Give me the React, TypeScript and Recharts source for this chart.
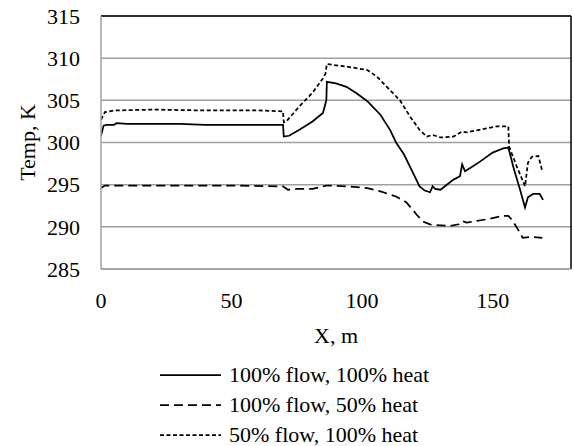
import { CartesianGrid, Line, LineChart, ReferenceLine, XAxis, YAxis } from "recharts";

// distance along the pipe, m / temperature, K
const fullFlowFullHeatX = [0, 1, 2, 5, 6, 10, 20, 30, 40, 50, 60, 69.7, 70, 72, 76, 81, 85, 86.3, 86.5, 90, 94, 98, 102, 107, 110.7, 113, 116, 119.5, 122, 124, 126, 127, 128, 130, 135, 137.5, 138.3, 139.4, 142, 145, 150, 154, 156, 158, 160.5, 162.4, 163.5, 165.5, 168, 169.3];
const fullFlowFullHeatT = [300.8, 302.0, 302.1, 302.1, 302.3, 302.2, 302.2, 302.2, 302.1, 302.1, 302.1, 302.1, 300.7, 300.8, 301.5, 302.5, 303.5, 305.0, 307.2, 307.0, 306.6, 305.8, 304.9, 303.3, 301.5, 300.0, 298.6, 296.4, 294.8, 294.3, 294.1, 294.8, 294.5, 294.4, 295.6, 296.0, 297.4, 296.6, 297.1, 297.7, 298.8, 299.3, 299.4, 297.0, 294.4, 292.3, 293.5, 293.9, 293.9, 293.2];

const fullFlowHalfHeatX = [0, 1.5, 10, 30, 50, 69.7, 71.6, 75, 81, 86.5, 94, 102, 107, 113, 117, 121, 123.5, 126, 128.5, 133.7, 137, 138.3, 140, 144, 147.8, 154, 156, 157.5, 159.3, 161.5, 165, 169];
const fullFlowHalfHeatT = [294.6, 294.9, 294.9, 294.9, 294.9, 294.8, 294.4, 294.5, 294.5, 294.9, 294.8, 294.6, 294.2, 293.6, 292.9, 291.4, 290.6, 290.3, 290.2, 290.1, 290.3, 290.7, 290.5, 290.7, 290.9, 291.3, 291.3, 290.8, 289.9, 288.7, 288.8, 288.7];

const halfFlowFullHeatX = [0, 1.5, 5, 20, 40, 60, 69.7, 70, 71, 76, 81, 85, 86, 86.5, 94, 102, 105.7, 110.7, 114.5, 118.3, 122, 124.8, 127, 130, 135, 138.3, 140, 145, 151.6, 156, 156.3, 159.3, 161.6, 162.4, 163.5, 165, 167.5, 169];
const halfFlowFullHeatT = [302.7, 303.6, 303.8, 303.9, 303.8, 303.8, 303.7, 302.4, 302.5, 304.3, 305.9, 307.6, 308.2, 309.3, 309.0, 308.6, 307.8, 306.2, 305.0, 303.1, 301.5, 300.7, 300.9, 300.6, 300.7, 301.3, 301.2, 301.5, 301.9, 301.9, 299.5, 297.1, 295.4, 294.8, 297.6, 298.3, 298.4, 296.6];

const xTicks = [0, 50, 100, 150];
const yTicks = [285, 290, 295, 300, 305, 310, 315];

const series = [
  { name: "100% flow, 100% heat", xs: fullFlowFullHeatX, ts: fullFlowFullHeatT, dash: undefined },
  { name: "100% flow, 50% heat", xs: fullFlowHalfHeatX, ts: fullFlowHalfHeatT, dash: "9 5" },
  { name: "50% flow, 100% heat", xs: halfFlowFullHeatX, ts: halfFlowFullHeatT, dash: "4 2.5" },
];

const font = "Liberation Serif";
const grid = "#a0a0a0";

export default function App() {
  return (
    <div
      style={{
        position: "absolute",
        left: 0,
        top: 0,
        width: 574,
        height: 446,
        background: "#fff",
        fontFamily: font,
      }}
    >
      <LineChart
        width={574}
        height={446}
        margin={{ top: 16, right: 3, bottom: 0, left: 0 }}
        style={{ fontFamily: font }}
      >
        <CartesianGrid vertical={false} stroke={grid} strokeWidth={1.5} />
        <XAxis
          type="number"
          dataKey="x"
          domain={[0, 180]}
          ticks={xTicks}
          height={177}
          tickSize={0}
          tickMargin={23}
          tickLine={false}
          axisLine={{ stroke: grid, strokeWidth: 1.5 }}
          tick={{ fill: "#000", fontSize: 22, fontFamily: font }}
          allowDataOverflow
        />
        <YAxis
          type="number"
          domain={[285, 315]}
          ticks={yTicks}
          width={101}
          tickSize={0}
          tickMargin={21}
          tickLine={false}
          axisLine={{ stroke: grid, strokeWidth: 1.5 }}
          tick={{ fill: "#000", fontSize: 22, fontFamily: font }}
          label={{
            content: () => (
              <text
                x={27}
                y={142.5}
                transform="rotate(-90 27 142.5)"
                textAnchor="middle"
                dominantBaseline="central"
                fontSize={22}
                fontFamily={font}
                fill="#000"
              >
                Temp, K
              </text>
            ),
          }}
        />
        <ReferenceLine y={315} stroke="#000" strokeWidth={1.5} />
        <ReferenceLine x={180} stroke="#000" strokeWidth={1.5} />
        {series.map((s) => (
          <Line
            key={s.name}
            name={s.name}
            data={s.xs.map((x, i) => ({ x, t: s.ts[i] }))}
            dataKey="t"
            type="linear"
            stroke="#000"
            strokeWidth={1.75}
            strokeDasharray={s.dash}
            dot={false}
            activeDot={false}
            isAnimationActive={false}
          />
        ))}
        <text x={336} y={335} textAnchor="middle" dominantBaseline="central" fontSize={22} fontFamily={font} fill="#000">
          X, m
        </text>
      </LineChart>
      <div style={{ position: "absolute", left: 160, top: 360 }}>
        {series.map((s) => (
          <div key={s.name} style={{ display: "flex", alignItems: "center", height: 30 }}>
            <svg width={61} height={10} style={{ marginRight: 8 }}>
              <line x1={0} y1={5} x2={61} y2={5} stroke="#000" strokeWidth={1.75} strokeDasharray={s.dash} />
            </svg>
            <span style={{ fontSize: 22, lineHeight: "30px", whiteSpace: "nowrap" }}>{s.name}</span>
          </div>
        ))}
      </div>
    </div>
  );
}
